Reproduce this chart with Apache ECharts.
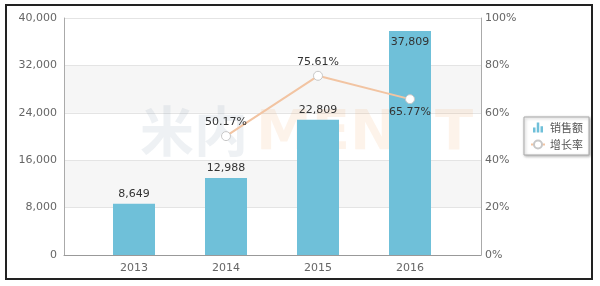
<!DOCTYPE html>
<html><head><meta charset="utf-8">
<script src="https://cdn.jsdelivr.net/npm/echarts@6/dist/echarts.min.js"></script>
<style>html,body{margin:0;padding:0;background:#fff}#c{width:600px;height:286px}</style>
</head><body><div id="c"></div>
<script>
const categories = ['2013', '2014', '2015', '2016'];
const sales = [8649, 12988, 22809, 37809];
const growth = [null, 50.17, 75.61, 65.77];
const leftTicks = [0, 8000, 16000, 24000, 32000, 40000];
const rightTicks = ['0%', '20%', '40%', '60%', '80%', '100%'];
const seriesNames = ['销售额', '增长率'];

const chart = echarts.init(document.getElementById('c'));
const lab = { color: '#666', fontSize: 11, fontFamily: 'DejaVu Sans' };
const fmtNum = v => v.toLocaleString('en-US');
chart.setOption({
  animation: false,
  graphic: [
    { type: 'rect', shape: { x: 6, y: 5, width: 586, height: 274 }, style: { fill: 'none', stroke: '#222', lineWidth: 2 }, z: 100 },
    { type: 'text', x: 140, y: 104, z: 1, silent: true, style: { text: '米内', fill: 'rgba(120,150,170,0.13)', font: 'bold 54px "Noto Sans CJK SC"' } },
    { type: 'text', x: 256, y: 106, z: 1, silent: true, style: { text: 'MENET', fill: 'rgba(240,160,90,0.13)', font: 'bold 56px "DejaVu Sans"' } }
  ],
  grid: [
    { left: 64, right: 119, top: 18, bottom: 31 },
    { left: 88, right: 144, top: 18, bottom: 31 }
  ],
  legend: {
    data: [{ name: seriesNames[0], icon: 'path://M2,10 L2,6 L4,6 L4,10 Z M5,10 L5,2 L7,2 L7,10 Z M8,10 L8,5 L10,5 L10,10 Z' }, { name: seriesNames[1] }],
    orient: 'vertical', left: 524, top: 117, itemWidth: 14, itemHeight: 10, itemGap: 6,
    padding: [5, 6, 5, 6], borderColor: '#aaa', borderWidth: 1, backgroundColor: '#fff',
    shadowColor: 'rgba(0,0,0,0.3)', shadowBlur: 3, shadowOffsetX: 1, shadowOffsetY: 1,
    textStyle: { color: '#555', fontSize: 11, fontFamily: 'Noto Sans CJK SC' }
  },
  xAxis: [
    { type: 'value', gridIndex: 0, min: 0, max: 1, axisLine: { show: true, lineStyle: { color: '#999' } }, axisTick: { show: false }, axisLabel: { show: false }, splitLine: { show: false } },
    { type: 'category', gridIndex: 1, data: categories, axisLine: { show: false }, axisTick: { show: false }, axisLabel: Object.assign({ margin: 8 }, lab) }
  ],
  yAxis: [
    { type: 'value', gridIndex: 0, min: 0, max: 40000, interval: 8000, position: 'left',
      axisLine: { show: true, lineStyle: { color: '#aaa' } }, axisTick: { show: false },
      axisLabel: Object.assign({ formatter: v => fmtNum(leftTicks[Math.round(v / 8000)]), margin: 7 }, lab),
      splitLine: { lineStyle: { color: '#e4e4e4' } },
      splitArea: { show: true, areaStyle: { color: ['#fff', '#f6f6f6'] } } },
    { type: 'value', gridIndex: 0, min: 0, max: 100, interval: 20, position: 'right',
      axisLine: { show: true, lineStyle: { color: '#aaa' } }, axisTick: { show: false },
      axisLabel: Object.assign({ formatter: v => rightTicks[Math.round(v / 20)], margin: 4 }, lab),
      splitLine: { show: false } },
    { type: 'value', gridIndex: 1, min: 0, max: 40000, show: false },
    { type: 'value', gridIndex: 1, min: 0, max: 100, show: false }
  ],
  series: [
    { name: seriesNames[0], type: 'bar', xAxisIndex: 1, yAxisIndex: 2, barWidth: 42, z: 2,
      itemStyle: { color: '#6fc0d9' },
      data: sales.map((v, i) => ({ value: v, label: i === 3 ? { position: 'insideTop', distance: 6 } : {} })),
      label: { show: true, position: 'top', distance: 4, color: '#333', fontSize: 11, fontFamily: 'DejaVu Sans', formatter: p => fmtNum(p.value) } },
    { name: seriesNames[1], type: 'line', xAxisIndex: 1, yAxisIndex: 3, z: 3,
      symbol: 'circle', symbolSize: 9, connectNulls: false,
      lineStyle: { color: '#f2c4a2', width: 2 },
      itemStyle: { color: '#fff', borderColor: '#c8c8c8', borderWidth: 1 },
      data: growth.map((v, i) => ({ value: v, label: i === 3 ? { position: 'bottom' } : {} })),
      label: { show: true, position: 'top', distance: 3, color: '#333', fontSize: 11, fontFamily: 'DejaVu Sans', formatter: p => p.value.toFixed(2) + '%' } }
  ]
});
</script></body></html>
